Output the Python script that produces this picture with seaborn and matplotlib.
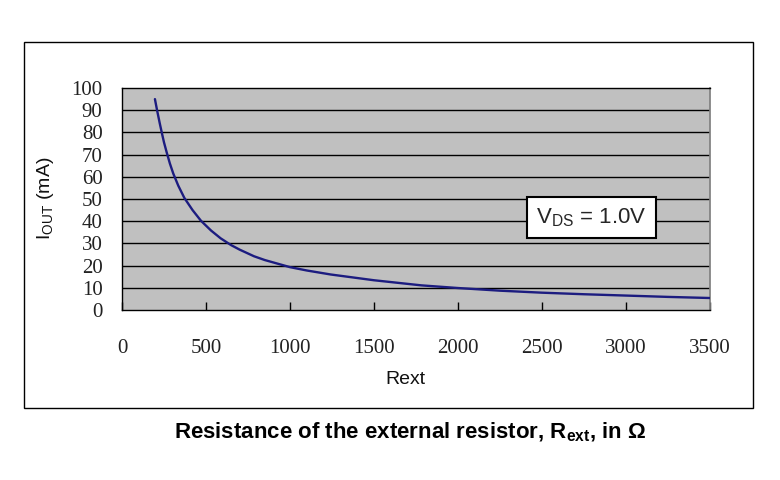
import pandas as pd
import numpy as np
import seaborn as sns
import matplotlib.pyplot as plt
from matplotlib.patches import Rectangle

# values
rext = [196, 210, 225, 238, 250, 266, 285, 305, 335, 371, 420, 470, 530, 587,
        650, 700, 786, 850, 1000, 1100, 1242, 1500, 1782, 2000, 2250, 2500,
        2750, 3000, 3250, 3500]
iout = [95, 89.5, 84, 79.5, 75.5, 71, 66, 61.5, 56, 50.5, 45, 40.2, 35.8, 32.3,
        29.2, 27.2, 24.2, 22.5, 19.3, 17.8, 16, 13.4, 11.1, 9.9, 8.7, 7.8,
        7.1, 6.5, 5.9, 5.4]
x_ticks = [0, 500, 1000, 1500, 2000, 2500, 3000, 3500]
y_ticks = [0, 10, 20, 30, 40, 50, 60, 70, 80, 90, 100]

sns.set_theme(style='white')
plt.rcParams['font.family'] = ['Liberation Sans', 'DejaVu Sans']
plt.rcParams['mathtext.fontset'] = 'custom'
plt.rcParams['mathtext.rm'] = 'Liberation Sans'
plt.rcParams['mathtext.bf'] = 'Liberation Sans:bold'

df = pd.DataFrame({'Rext': rext, 'Iout': iout})

fig = plt.figure(figsize=(7.8, 4.8), dpi=100)
# outer frame
fig.patches.append(Rectangle((24 / 780, 1 - 408 / 480), (753 - 24) / 780, (408 - 42) / 480,
                             transform=fig.transFigure, fill=False, edgecolor='black', lw=1))

ax = fig.add_axes([122 / 780, 1 - 310 / 480, 588 / 780, 222 / 480])
ax.set_facecolor('#c0c0c0')
for y in y_ticks[1:-1]:
    ax.axhline(y, color='black', lw=1, zorder=1)

sns.lineplot(data=df, x='Rext', y='Iout', ax=ax, color='#1c1c80', lw=1.7, zorder=3)

ax.set_xlim(0, 3500)
ax.set_ylim(0, 100)
ax.set_xticks(x_ticks)
ax.set_yticks(y_ticks)
for lab in ax.get_xticklabels() + ax.get_yticklabels():
    lab.set_family('Liberation Serif')
    lab.set_fontsize(15)
    lab.set_color('#222222')
ax.tick_params(axis='x', direction='in', length=6, width=1, color='black', pad=21, bottom=True)
ax.tick_params(axis='y', length=0, pad=14)

for side in ['left', 'bottom', 'top']:
    ax.spines[side].set_color('black')
    ax.spines[side].set_linewidth(1)
ax.spines['right'].set_color('#808080')

ax.set_xlabel('Rext', fontsize=14, color='#111111')
ax.xaxis.set_label_coords((405 - 122) / 588, (310 - 379) / 222)
ax.xaxis.label.set_va('center')
ax.set_ylabel(r'$\mathrm{I_{OUT}}$ (mA)', fontsize=14, color='#111111')
ax.yaxis.set_label_coords((45 - 122) / 588, (310 - 198) / 222)
ax.yaxis.label.set_va('center')

ax.text(2795, 41.6, r'$\mathrm{V_{DS}}$ = 1.0V', fontsize=16, ha='center', va='center', zorder=4,
        bbox=dict(boxstyle='square,pad=0.42', facecolor='white', edgecolor='black', lw=1.5))

fig.text(410 / 780, 1 - 432 / 480, r'Resistance of the external resistor, $\mathbf{R_{ext}}$, in Ω',
         fontsize=16, fontweight='bold', ha='center', va='center', color='black')

plt.savefig('out.png', dpi=100)
